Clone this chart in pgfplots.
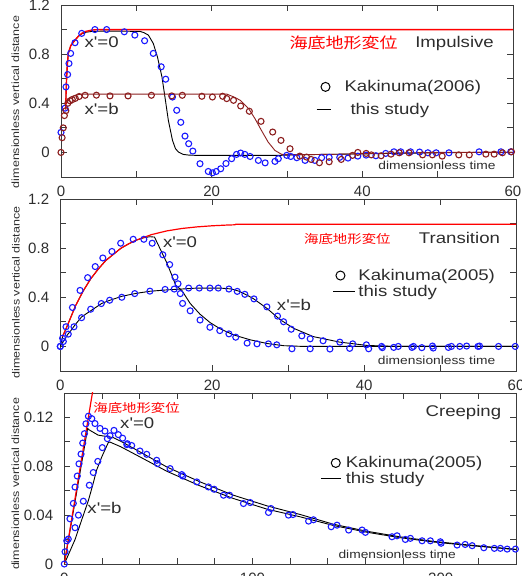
\documentclass[border=0pt]{standalone}
\usepackage{pgfplots}
\pgfplotsset{compat=1.18}
\usepackage{fontspec}
\newfontfamily\arial{Liberation Sans}
\newfontfamily\arialw{Liberation Sans}[FakeStretch=1.2]
\newfontfamily\cjk{Noto Sans CJK JP}[FakeStretch=1.2]
\definecolor{brn}{RGB}{140,30,30}
\definecolor{frm}{RGB}{60,60,60}
\definecolor{txt}{RGB}{45,45,45}
\definecolor{mblue}{RGB}{25,25,255}
\newcommand{\tf}{\arialw\fontsize{15.5bp}{17bp}\selectfont}
\newcommand{\smf}{\arialw\fontsize{11.5bp}{13bp}\selectfont}
\newcommand{\yf}{\arialw\fontsize{10.4bp}{12bp}\selectfont}
\pgfplotsset{
 panel/.style={
  scale only axis, anchor=south west, clip mode=individual,
  axis line style={frm, line width=0.8bp},
  every tick/.style={frm, line width=0.8bp},
  major tick length=6bp,
  tick align=inside,
  tick label style={font=\arial\fontsize{15bp}{17bp}\selectfont, text=txt, inner sep=0pt},
  /pgf/number format/assume math mode=true,
  xticklabel style={anchor=north, yshift=-9bp},
  yticklabel style={anchor=east, xshift=-11bp},
  legend cell align=left,
  legend style={draw=none, fill=none, inner sep=0pt, outer sep=0pt, font=\tf, text=txt,
    nodes={inner sep=0pt},
    /tikz/every odd column/.append style={column sep=0bp}},
 },
 dat/.style={only marks, mark=o, mark size=3bp, line width=1.1bp, mark options={solid}},
 ln/.style={no marks, line width=0.9bp, black},
 circA/.style={legend image code/.code={\path[draw=none,fill=none] (0bp,-6bp) rectangle (28bp,6bp); \draw[black, line width=1bp, only marks, mark=o, mark size=4.5bp] plot coordinates {(9bp,0bp)};}},
 lineA/.style={legend image code/.code={\path[draw=none,fill=none] (0bp,-6bp) rectangle (28bp,6bp); \draw[black, line width=1bp] (0bp,0bp) -- (14bp,0bp);}},
 circB/.style={legend image code/.code={\path[draw=none,fill=none] (0bp,-6bp) rectangle (25bp,6bp); \draw[black, line width=1bp, only marks, mark=o, mark size=4.5bp] plot coordinates {(7bp,0bp)};}},
 lineB/.style={legend image code/.code={\path[draw=none,fill=none] (0bp,-6bp) rectangle (25bp,6bp); \draw[black, line width=1bp] (0bp,0bp) -- (22bp,0bp);}},
 circC/.style={legend image code/.code={\path[draw=none,fill=none] (0bp,-6bp) rectangle (25bp,6bp); \draw[black, line width=1bp, only marks, mark=o, mark size=4.5bp] plot coordinates {(15bp,0bp)};}},
 lineC/.style={legend image code/.code={\path[draw=none,fill=none] (0bp,-6bp) rectangle (25bp,6bp); \draw[black, line width=1bp] (0bp,0bp) -- (20bp,0bp);}},
}
\begin{document}
\begin{tikzpicture}
%%%%%%%%%%%%%%%% Panel 1: Impulsive
\begin{axis}[panel, at={(61bp,399bp)}, width=452bp, height=172bp,
  xmin=0, xmax=60, ymin=-0.2, ymax=1.2,
  xtick={0,10,20,30,40,50,60}, xticklabels={0,,20,,40,,60},
  ytick={0,0.2,0.4,0.6,0.8,1.0,1.2}, yticklabels={0,,0.4,,0.8,,1.2},
  legend style={at={(axis cs:33.85,0.441)}, anchor=west, row sep=10bp}]
\addlegendimage{circA}
\addlegendentry{Kakinuma(2006)}
\addlegendimage{lineA}
\addlegendentry{\hspace{6bp}this study}
\addplot[ln, forget plot] coordinates {(0.62,0.35)(0.68,0.5)(0.75,0.615)(0.85,0.72)(0.97,0.806)(1.3,0.87)(1.86,0.914)(2.3,0.945)(2.75,0.965)(3.3,0.978)(4.1,0.985)(6,0.988)(10.5,0.985)(11.0,0.975)(11.6,0.955)(12.25,0.887)(12.8,0.778)(13.4,0.615)(13.8,0.45)(14.25,0.261)(14.8,0.098)(15.2,0.03)(15.6,0.003)(16.2,-0.016)(17.0,-0.022)(18,-0.024)(29,-0.024)(31,-0.02)(35,-0.016)(40,-0.012)(45,-0.007)(50,-0.003)(55,0)(60,0)};
\addplot[no marks, line width=0.9bp, brn, forget plot] coordinates {(0.62,0.36)(0.66,0.40)(1.2,0.447)(1.86,0.465)(2.7,0.475)(22.0,0.475)(22.4,0.465)(23.0,0.45)(23.8,0.424)(24.9,0.357)(25.75,0.275)(26.6,0.18)(27.5,0.084)(28.4,0.016)(29.3,-0.016)(30,-0.018)(35.7,-0.016)(40,-0.01)(45,-0.004)(50,0)(60,0)};
\addplot[no marks, line width=1.4bp, red, forget plot] coordinates {(0.62,0.35)(0.68,0.5)(0.75,0.615)(0.85,0.72)(0.97,0.806)(1.3,0.87)(1.86,0.914)(2.3,0.945)(2.75,0.969)(3.3,0.985)(4.1,0.996)(5,1.0)(60,1.0)};
\addplot[dat, mblue, forget plot] coordinates {(0,0.163)(0.53,0.36)(0.66,0.533)(0.88,0.634)(1.06,0.724)(1.28,0.806)(1.86,0.893)(2.75,0.969)(4.5,1.0)(6.06,1.0)(8.4,0.982)(9.8,0.955)(11.1,0.909)(12.25,0.806)(13.3,0.697)(13.9,0.596)(14.8,0.451)(15.36,0.343)(15.9,0.245)(16.46,0.133)(16.95,0.071)(17.5,0.011)(18.45,-0.092)(19.55,-0.155)(20.1,-0.166)(20.6,-0.155)(21.2,-0.133)(21.9,-0.09)(22.65,-0.051)(23.3,-0.016)(23.85,-0.005)(24.4,-0.016)(25.1,-0.033)(26.2,-0.065)(27.1,-0.085)(28.4,-0.073)(28.85,-0.051)(29.96,-0.024)(30.5,-0.033)(31.3,-0.043)(32.4,-0.065)(33.7,-0.065)(34.6,-0.043)(35.6,-0.04)(37.0,-0.04)(38.1,-0.046)(39.4,-0.03)(40.5,-0.022)(41.8,-0.027)(43.1,-0.008)(44.2,0.005)(45.1,0.005)(46.4,0.005)(47.6,0.003)(48.7,-0.003)(49.8,-0.003)(51.5,-0.003)(55.5,0.005)(58.4,0.005)(59.7,0.005)};
\addplot[dat, brn, forget plot] coordinates {(0,0)(0.15,0.12)(0.3,0.2)(0.45,0.3)(0.65,0.34)(0.9,0.4)(1.2,0.42)(1.5,0.43)(1.9,0.44)(2.4,0.455)(3.2,0.465)(4.7,0.466)(6.5,0.46)(8.9,0.46)(12.0,0.465)(14.7,0.46)(16.1,0.465)(18.7,0.457)(20.1,0.451)(21.45,0.457)(22.0,0.438)(22.9,0.424)(23.85,0.378)(25.0,0.335)(26.55,0.253)(28.1,0.166)(29.2,0.098)(30.4,0.03)(31.7,-0.03)(32.6,-0.038)(33.2,-0.057)(34.3,-0.084)(35.6,-0.076)(37.2,-0.057)(38.7,-0.024)(39.4,0)(40.5,-0.008)(41.2,-0.02)(42.5,-0.027)(43.8,-0.014)(44.9,-0.003)(46.2,-0.003)(48.0,-0.02)(49.3,-0.02)(50.6,-0.03)(52.8,-0.02)(54.2,-0.02)(56.4,-0.014)(57.5,-0.014)(58.6,-0.003)(59.8,0.005)};
\node[font=\cjk\fontsize{15bp}{17bp}\selectfont, text=red, anchor=center] at (axis cs:37.5,0.894) {海底地形変位};
\node[font=\tf, text=txt, anchor=base west, inner sep=0pt] at (axis cs:47.0,0.851) {Impulsive};
\node[font=\tf, text=txt, anchor=base west, inner sep=0pt] at (axis cs:3.1,0.851) {x'=0};
\node[font=\tf, text=txt, anchor=base west, inner sep=0pt] at (axis cs:3.1,0.308) {x'=b};
\node[font=\smf, text=txt, anchor=base west, inner sep=0pt] at (axis cs:42.1,-0.141) {dimensionless time};
\node[font=\yf, text=txt, rotate=90] at (rel axis cs:-0.1007,0.436) {dimensionless vertical distance};
\end{axis}
%%%%%%%%%%%%%%%% Panel 2: Transition
\begin{axis}[panel, at={(60.3bp,205bp)}, width=455.7bp, height=172bp,
  xmin=0, xmax=60, ymin=-0.2, ymax=1.2,
  xtick={0,10,20,30,40,50,60}, xticklabels={0,,20,,40,,60},
  ytick={0,0.2,0.4,0.6,0.8,1.0,1.2}, yticklabels={0,,0.4,,0.8,,1.2},
  legend style={at={(axis cs:35.9,0.513)}, anchor=west, row sep=3bp}]
\addlegendimage{circB}
\addlegendentry{Kakinuma(2005)}
\addlegendimage{lineB}
\addlegendentry{this study}
\addplot[ln, forget plot] coordinates {(0,0)(0.3,0.08)(1,0.18)(2,0.33)(3,0.45)(4,0.55)(5,0.63)(6,0.70)(7,0.75)(8,0.80)(9,0.835)(10,0.865)(11,0.885)(11.8,0.893)(12.4,0.89)(13.1,0.80)(14.0,0.684)(14.7,0.577)(15.2,0.497)(16.0,0.456)(17.1,0.35)(18.4,0.262)(19.7,0.195)(21.0,0.145)(22.8,0.094)(25,0.054)(27.2,0.024)(29.4,0.006)(32,0)(60,0)};
\addplot[ln, forget plot] coordinates {(0,0)(1,0.1)(1.28,0.12)(2,0.18)(2.8,0.24)(4,0.29)(5.45,0.35)(6.5,0.375)(8.1,0.408)(10,0.432)(11.8,0.449)(14,0.46)(16.2,0.468)(18,0.475)(21,0.475)(22.5,0.468)(23.5,0.45)(24.5,0.42)(25.4,0.39)(27.2,0.31)(28.9,0.22)(30.7,0.148)(33.3,0.08)(36.8,0.035)(40.4,0.008)(44,0)(60,0)};
\addplot[no marks, line width=1.2bp, red, forget plot] coordinates {(0.3,0.08)(1,0.18)(2,0.33)(3,0.45)(4,0.55)(5,0.63)(6,0.70)(7,0.75)(8,0.80)(9,0.835)(10,0.865)(12,0.91)(14,0.94)(16,0.96)(18,0.973)(20,0.982)(22,0.988)(23,0.99)(23.1,0.995)(60,0.995)};
\addplot[dat, mblue, forget plot] coordinates {(0,0)(0.4,0.04)(0.75,0.16)(1.6,0.317)(2.6,0.456)(3.6,0.56)(4.6,0.65)(5.6,0.72)(6.8,0.773)(7.95,0.84)(9.6,0.872)(11.0,0.872)(12.1,0.84)(13.5,0.746)(14.4,0.666)(15.1,0.564)(15.5,0.51)(15.8,0.43)(16.1,0.35)(17.1,0.29)(18.4,0.215)(19.7,0.156)(21.0,0.129)(22.2,0.102)(23.1,0.075)(24.6,0.027)(25.9,0.021)(27.4,0.021)(28.5,0.013)(30.5,-0.019)(32.9,-0.019)(35.5,-0.021)(38.1,-0.016)(40.6,-0.019)(42.4,-0.01)(43.9,-0.008)(46.3,-0.008)(47.6,-0.01)(49.1,-0.013)(51.1,-0.008)(52.6,0)(55,0)(57.7,0)(59.9,0)};
\addplot[dat, mblue, forget plot] coordinates {(0,0)(0.3,0.067)(1.05,0.10)(1.8,0.16)(2.8,0.234)(4.0,0.303)(5.4,0.349)(6.5,0.376)(8.1,0.40)(9.8,0.43)(11.8,0.45)(13.8,0.464)(15.0,0.467)(16.9,0.475)(18.3,0.475)(19.7,0.475)(20.8,0.475)(22.2,0.467)(23.3,0.448)(24.3,0.424)(25.5,0.387)(27.2,0.322)(28.6,0.247)(29.4,0.201)(30.4,0.14)(31.8,0.086)(32.9,0.062)(34.6,0.046)(36.8,0.035)(38.5,0.021)(40.3,0.013)(42.3,0)(44.5,0)(46.5,0)(49,0.003)(51.5,0)(53.5,0.003)(55.2,0.003)};
\node[font=\cjk\fontsize{12bp}{14bp}\selectfont, text=red, anchor=center] at (axis cs:37.8,0.875) {海底地形変位};
\node[font=\tf, text=txt, anchor=base west, inner sep=0pt] at (axis cs:47.2,0.84) {Transition};
\node[font=\tf, text=txt, anchor=base west, inner sep=0pt] at (axis cs:13.5,0.805) {x'=0};
\node[font=\tf, text=txt, anchor=base west, inner sep=0pt] at (axis cs:28.5,0.295) {x'=b};
\node[font=\smf, text=txt, anchor=base west, inner sep=0pt] at (axis cs:41.8,-0.147) {dimensionless time};
\node[font=\yf, text=txt, rotate=90] at (rel axis cs:-0.0976,0.456) {dimensionless vertical distance};
\end{axis}
%%%%%%%%%%%%%%%% Panel 3: Creeping
\begin{axis}[panel, at={(64.3bp,12bp)}, width=451.7bp, height=171bp,
  xmin=0, xmax=240, ymin=0, ymax=0.14,
  xtick={0,20,40,60,80,100,120,140,160,180,200,220,240}, xticklabels={0,,,,,100,,,,,200,,},
  ytick={0,0.02,0.04,0.06,0.08,0.1,0.12,0.14}, yticklabels={0,,0.04,,0.08,,0.12,},
  legend style={at={(axis cs:136.0,0.0763)}, anchor=west, row sep=3bp}]
\addlegendimage{circC}
\addlegendentry{Kakinuma(2005)}
\addlegendimage{lineC}
\addlegendentry{this study}
\addplot[ln, forget plot] coordinates {(0,0)(12.4,0.111)(13,0.110)(18,0.1055)(26,0.1035)(30,0.1005)(40.3,0.0917)(54.5,0.0794)(72.2,0.0672)(89.9,0.0563)(107.7,0.0476)(125.4,0.0405)(143.1,0.0325)(160.8,0.0268)(178.6,0.0222)(196.3,0.0185)(214,0.0157)(240,0.012)};
\addplot[ln, forget plot] coordinates {(0,0)(2,0.007)(5.7,0.02)(9,0.035)(12.8,0.052)(15,0.064)(17.2,0.077)(20,0.088)(23.4,0.0995)(24.3,0.0998)(30,0.096)(40.3,0.0876)(54.5,0.0759)(72.2,0.0639)(89.9,0.0536)(107.7,0.0449)(125.4,0.0386)(143.1,0.0315)(160.8,0.026)(178.6,0.0215)(196.3,0.018)(214,0.0153)(240,0.0118)};
\addplot[no marks, line width=1.2bp, red, forget plot] coordinates {(0,0)(16,0.15)};
\addplot[dat, mblue, forget plot] coordinates {(0,0)(1.3,0.019)(3.0,0.037)(4.8,0.0496)(5.7,0.063)(6.9,0.072)(7.8,0.082)(8.9,0.090)(9.8,0.099)(10.7,0.1067)(11.5,0.1148)(12.8,0.121)(14.6,0.119)(16.3,0.115)(19,0.111)(21.6,0.1088)(24.3,0.105)(26.4,0.1094)(28.7,0.1059)(31,0.103)(33.5,0.0985)(35.8,0.097)};
\addplot[dat, mblue, forget plot] coordinates {(0.4,0.01)(2.1,0.0204)(5.7,0.0297)(7.5,0.04)(10.1,0.0514)(13.3,0.0645)(15.4,0.0749)(17.8,0.084)(20.2,0.0953)(22.9,0.1026)};
\addplot[dat, mblue, forget plot] coordinates {(33.2,0.0977)(40.2,0.0925)(43.8,0.0898)(49.1,0.0849)(49.5,0.0822)(56.2,0.0781)(62.4,0.0732)(63,0.072)(70.4,0.0672)(76.6,0.0631)(79.6,0.0612)(84.6,0.0563)(87.8,0.0563)(95.2,0.0495)(98.8,0.0503)(108.5,0.0422)(109.8,0.0454)(119.1,0.040)(121.5,0.0405)(129.8,0.0351)(132.4,0.0362)(141.8,0.0305)(144.9,0.0318)(151.1,0.0278)(158.2,0.0278)(160,0.0259)(174.1,0.0223)(176.8,0.0231)(181.2,0.0201)(183.9,0.021)(190.1,0.019)(194.5,0.019)(199.8,0.0182)(200.2,0.0170)(208.7,0.0155)(213,0.016)(216.7,0.015)(222.9,0.0133)(228.5,0.0128)(231.7,0.0128)(235.3,0.0122)(239.7,0.0122)};
\node[font=\cjk\fontsize{12bp}{14bp}\selectfont, text=red, anchor=center] at (axis cs:38.4,0.128) {海底地形変位};
\node[font=\tf, text=txt, anchor=base west, inner sep=0pt] at (axis cs:191.9,0.1208) {Creeping};
\node[font=\tf, text=txt, anchor=base west, inner sep=0pt] at (axis cs:29.6,0.1108) {x'=0};
\node[font=\tf, text=txt, anchor=base west, inner sep=0pt] at (axis cs:12.2,0.0414) {x'=b};
\node[font=\smf, text=txt, anchor=base west, inner sep=0pt] at (axis cs:145.6,0.0046) {dimensionless time};
\node[font=\yf, text=txt, rotate=90] at (rel axis cs:-0.108,0.468) {dimensionless vertical distance};
\end{axis}
\pgfresetboundingbox
\path[use as bounding box] (0bp,0bp) rectangle (522bp,576bp);
\end{tikzpicture}
\end{document}
